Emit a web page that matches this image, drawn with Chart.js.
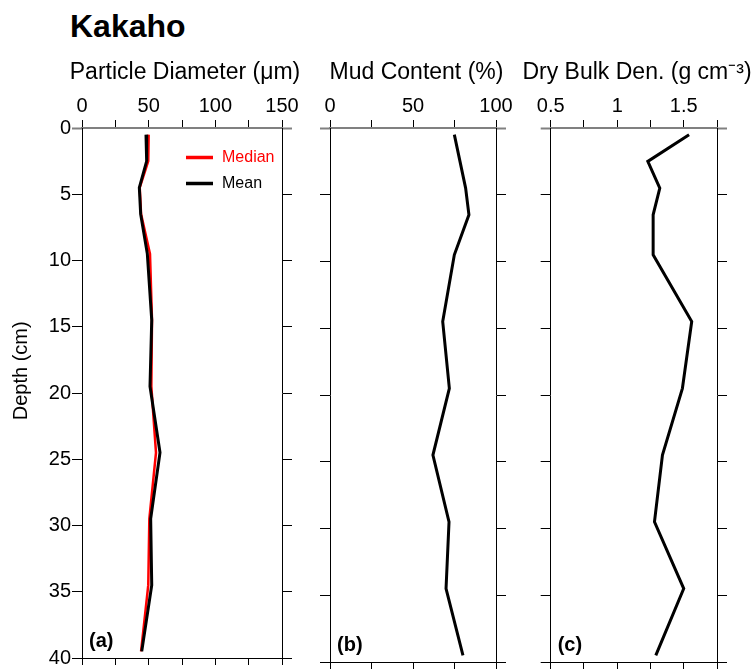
<!DOCTYPE html>
<html>
<head>
<meta charset="utf-8">
<title>Kakaho</title>
<script src="https://cdn.jsdelivr.net/npm/chart.js@4.4.1/dist/chart.umd.min.js"></script>
<style>
  html, body { margin: 0; padding: 0; background: #fff; }
  #wrap { position: relative; width: 754px; height: 671px; overflow: hidden; }
  #wrap canvas { position: absolute; top: 0; }
  #title { position: absolute; left: 70px; top: 10px; margin: 0; font: bold 32px/32px 'Liberation Sans', Arial, sans-serif; }
</style>
</head>
<body>
<div id="wrap">
  <h1 id="title">Kakaho</h1>
  <canvas id="panelA" width="370" height="671" style="left:0px"></canvas>
  <canvas id="panelB" width="233" height="671" style="left:300px"></canvas>
  <canvas id="panelC" width="234" height="671" style="left:520px"></canvas>
</div>
<script>
// Core profile values
const depthCm = [0.5, 2.5, 4.5, 6.5, 9.5, 14.5, 19.5, 24.5, 29.5, 34.5, 39.5];
const medianDiameter = [50, 49.7, 43.3, 44.3, 51, 52.5, 52, 55.5, 50.5, 49.7, 44.3];
const meanDiameter = [48, 48.5, 43, 44, 49, 52.3, 51, 58.5, 51.5, 52.3, 44.8];
const mudContent = [74.9, 78.3, 81.7, 83.7, 74.9, 67.9, 71.9, 62, 71.7, 69.9, 80.1];
const dryBulkDensity = [1.54, 1.23, 1.32, 1.27, 1.27, 1.56, 1.49, 1.34, 1.28, 1.50, 1.29];

// Tick positions and labels
const depthTicks = [0, 5, 10, 15, 20, 25, 30, 35, 40];
const diameterTicks = [0, 25, 50, 75, 100, 125, 150];
const diameterLabels = ['0', '', '50', '', '100', '', '150'];
const mudTicks = [0, 25, 50, 75, 100];
const mudLabels = ['0', '', '50', '', '100'];
const densityTicks = [0.5, 0.75, 1, 1.25, 1.5, 1.75];
const densityLabels = ['0.5', '', '1', '', '1.5', ''];

Chart.defaults.font.family = "'Liberation Sans', Arial, Helvetica, sans-serif";
Chart.defaults.color = '#000';
Chart.defaults.animation = false;

// layout
const AXIS_GREY = '#808080';
const PLOT_TOP = 128;
const PLOT_BOTTOM = 662;
const CANVAS_H = 671;
const TITLE_PAD = 59;
const TITLE_SIZE = 23;

const pairs = vals => vals.map((v, i) => ({ x: v, y: depthCm[i] }));
const fixedTicks = values => scale => { scale.ticks = values.map(v => ({ value: v })); };
const isZero = c => c.tick && c.tick.value === 0;

// (a), (b), (c) tags in the lower left corner
const panelTag = {
    id: 'panelTag',
    afterDraw(chart, args, opts) {
        if (!opts.text) return;
        const { ctx, chartArea } = chart;
        ctx.save();
        ctx.font = "bold 20px 'Liberation Sans', Arial, sans-serif";
        ctx.fillStyle = '#000';
        ctx.textBaseline = 'middle';
        ctx.fillText(opts.text, chartArea.left + 7, chartArea.bottom - 17);
        ctx.restore();
    }
};

// legend drawn inside the plot, upper right
const insideLegend = {
    id: 'insideLegend',
    afterDraw(chart, args, opts) {
        if (!opts.show) return;
        const { ctx, chartArea } = chart;
        ctx.save();
        ctx.font = "16px 'Liberation Sans', Arial, sans-serif";
        ctx.textBaseline = 'middle';
        chart.data.datasets.forEach((ds, i) => {
            const x = chartArea.left + 104;
            const y = chartArea.top + 29.5 + i * 26;
            ctx.strokeStyle = ds.borderColor;
            ctx.lineWidth = 3.5;
            ctx.beginPath();
            ctx.moveTo(x, y);
            ctx.lineTo(x + 27, y);
            ctx.stroke();
            ctx.fillStyle = ds.borderColor;
            ctx.fillText(ds.label, x + 36, y);
        });
        ctx.restore();
    }
};

function depthPanel(id, o) {
    const depthGrid = {
        drawOnChartArea: false,
        tickLength: 10,
        tickColor: c => isZero(c) ? AXIS_GREY : '#000',
        tickWidth: c => isZero(c) ? 2 : 1
    };
    const min = o.ticks[0];
    const max = o.ticks[o.ticks.length - 1];

    return new Chart(document.getElementById(id), {
        type: 'scatter',
        data: {
            datasets: o.datasets.map(ds => Object.assign({
                showLine: true,
                pointRadius: 0,
                pointHoverRadius: 0,
                fill: false,
                tension: 0
            }, ds))
        },
        plugins: [panelTag, insideLegend],
        options: {
            responsive: false,
            events: [],
            layout: { padding: 0 },
            plugins: {
                legend: { display: false },
                tooltip: { enabled: false },
                title: {
                    display: true,
                    text: o.title,
                    color: '#000',
                    font: { size: TITLE_SIZE, weight: 'normal' },
                    padding: { top: TITLE_PAD, bottom: 0 }
                },
                panelTag: { text: o.tag },
                insideLegend: { show: !!o.legend }
            },
            scales: {
                x: {
                    type: 'linear',
                    position: 'top',
                    min, max,
                    afterBuildTicks: fixedTicks(o.ticks),
                    afterFit: s => { s.height = PLOT_TOP - TITLE_PAD - TITLE_SIZE * 1.2; },
                    ticks: {
                        autoSkip: false,
                        maxRotation: 0,
                        padding: 2,
                        font: { size: 20 },
                        callback: (v, i) => o.labels[i]
                    },
                    grid: { drawOnChartArea: false, tickLength: 8, tickColor: '#000' },
                    border: { color: AXIS_GREY, width: 2 }
                },
                xb: {
                    type: 'linear',
                    axis: 'x',
                    position: 'bottom',
                    min, max,
                    afterBuildTicks: fixedTicks(o.ticks),
                    afterFit: s => { s.height = CANVAS_H - PLOT_BOTTOM; },
                    ticks: { display: false },
                    grid: { drawOnChartArea: false, tickLength: 7, tickColor: '#000' },
                    border: { color: '#000', width: 1 }
                },
                y: {
                    type: 'linear',
                    position: 'left',
                    min: 0,
                    max: 40,
                    reverse: true,
                    afterBuildTicks: fixedTicks(depthTicks),
                    afterFit: s => { s.width = o.leftW; },
                    ticks: { display: !!o.depthAxis, padding: 1, font: { size: 20 } },
                    grid: depthGrid,
                    border: { color: '#000', width: 1 },
                    title: {
                        display: !!o.depthAxis,
                        // leading spaces nudge the label up a little, like the original
                        text: '        Depth (cm)',
                        font: { size: 20 },
                        padding: { top: 9.5, bottom: 0 }
                    }
                },
                yr: {
                    type: 'linear',
                    axis: 'y',
                    position: 'right',
                    min: 0,
                    max: 40,
                    reverse: true,
                    afterBuildTicks: fixedTicks(depthTicks),
                    afterFit: s => { s.width = o.rightW; },
                    ticks: { display: false },
                    grid: depthGrid,
                    border: { color: '#000', width: 1 }
                }
            }
        }
    });
}

depthPanel('panelA', {
    title: 'Particle Diameter (\u03bcm)',
    tag: '(a)',
    legend: true,
    depthAxis: true,
    leftW: 82,
    rightW: 88,
    ticks: diameterTicks,
    labels: diameterLabels,
    datasets: [
        { label: 'Median', data: pairs(medianDiameter), borderColor: '#ff0000', borderWidth: 2.5, order: 2 },
        { label: 'Mean', data: pairs(meanDiameter), borderColor: '#000000', borderWidth: 3, order: 1 }
    ]
});

depthPanel('panelB', {
    title: 'Mud Content (%)',
    tag: '(b)',
    leftW: 30,
    rightW: 37,
    ticks: mudTicks,
    labels: mudLabels,
    datasets: [
        { label: 'Mud', data: pairs(mudContent), borderColor: '#000000', borderWidth: 3 }
    ]
});

depthPanel('panelC', {
    title: 'Dry Bulk Den. (g cm\u207b\u00b3)',
    tag: '(c)',
    leftW: 30.7,
    rightW: 37,
    ticks: densityTicks,
    labels: densityLabels,
    datasets: [
        { label: 'Density', data: pairs(dryBulkDensity), borderColor: '#000000', borderWidth: 3 }
    ]
});
</script>
</body>
</html>
